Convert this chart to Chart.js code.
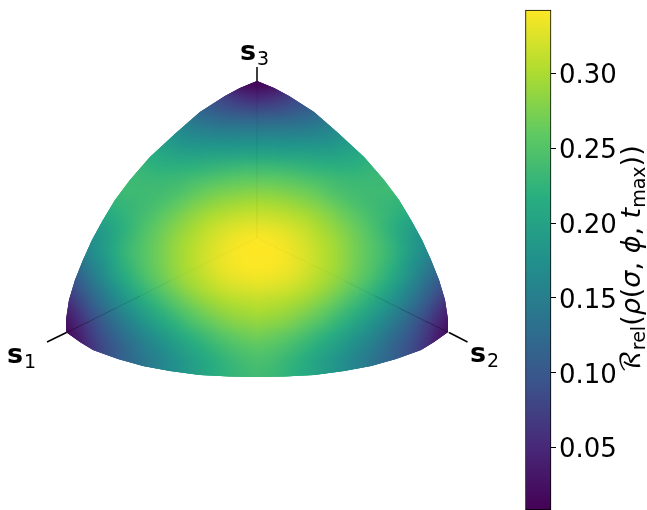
<!DOCTYPE html>
<html><head><meta charset="utf-8">
<style>html,body{margin:0;padding:0;background:#fff;width:647px;height:510px;overflow:hidden}
canvas{position:absolute;top:0}#main{left:0}#bar{left:520px}</style>
<script src="https://cdn.jsdelivr.net/npm/chart.js@4"></script></head><body>
<canvas id="main" width="647" height="510"></canvas><canvas id="bar" width="127" height="510"></canvas>
<script>
const colPositions=[54,66,78,90,102,114,126,138,150,162,174,186,198,210,222,234,246,258,270,282,294,306,318,330,342,354,366,378,390,402,414,426,438,450,462];
const rowPositions=[72,84,96,108,120,132,144,156,168,180,192,204,216,228,240,252,264,276,288,300,312,324,336,348,360,372,384];
// values, in thousandths; 0 = no sample
const r072=[0,0,0,0,0,0,0,0,0,0,0,0,0,0,0,8,8,8,8,8,0,0,0,0,0,0,0,0,0,0,0,0,0,0,0];
const r084=[0,0,0,0,0,0,0,0,0,0,0,0,0,0,35,22,14,10,14,22,35,0,0,0,0,0,0,0,0,0,0,0,0,0,0];
const r096=[0,0,0,0,0,0,0,0,0,0,0,0,0,90,75,62,50,45,50,62,75,90,0,0,0,0,0,0,0,0,0,0,0,0,0];
const r108=[0,0,0,0,0,0,0,0,0,0,0,130,115,103,93,86,82,80,82,86,93,103,115,130,0,0,0,0,0,0,0,0,0,0,0];
const r120=[0,0,0,0,0,0,0,0,0,0,165,146,134,127,123,120,118,117,118,120,123,127,134,146,165,0,0,0,0,0,0,0,0,0,0];
const r132=[0,0,0,0,0,0,0,0,0,190,174,162,156,153,151,150,150,150,150,150,151,153,156,162,174,190,0,0,0,0,0,0,0,0,0];
const r144=[0,0,0,0,0,0,0,0,208,196,186,180,178,177,177,177,178,178,178,177,177,177,178,180,186,196,208,0,0,0,0,0,0,0,0];
const r156=[0,0,0,0,0,0,0,225,216,208,203,201,201,202,203,204,205,205,205,204,203,202,201,201,203,208,216,225,0,0,0,0,0,0,0];
const r168=[0,0,0,0,0,0,235,230,224,220,220,221,223,226,230,233,235,235,235,233,230,226,223,221,220,220,224,230,235,0,0,0,0,0,0];
const r180=[0,0,0,0,0,235,234,233,232,232,234,238,243,248,253,257,259,260,259,257,253,248,243,238,234,232,232,233,234,235,0,0,0,0,0];
const r192=[0,0,0,0,226,232,235,235,236,238,242,250,260,267,272,276,279,280,279,276,272,267,260,250,242,238,236,235,235,232,226,0,0,0,0];
const r204=[0,0,0,203,215,225,228,233,238,245,256,266,276,283,290,295,298,300,298,295,290,283,276,266,256,245,238,233,228,225,215,203,0,0,0];
const r216=[0,0,178,192,205,216,226,235,245,258,268,280,290,300,306,312,315,317,315,312,306,300,290,280,268,258,245,235,226,216,205,192,178,0,0];
const r228=[0,0,165,178,190,205,222,238,252,266,278,290,301,312,320,326,331,332,331,326,320,312,301,290,278,266,252,238,222,205,190,178,165,0,0];
const r240=[0,130,150,170,187,205,227,243,258,271,285,298,308,320,329,336,341,343,341,336,329,320,308,298,285,271,258,243,227,205,187,170,150,130,0];
const r252=[0,125,145,165,185,208,230,245,260,273,287,300,312,323,332,340,343,343,343,340,332,323,312,300,287,273,260,245,230,208,185,165,145,125,0];
const r264=[0,105,128,153,175,200,225,242,258,272,287,300,312,323,333,339,342,343,342,339,333,323,312,300,287,272,258,242,225,200,175,153,128,105,0];
const r276=[0,88,112,140,165,192,216,236,253,268,283,296,306,318,327,333,337,338,337,333,327,318,306,296,283,268,253,236,216,192,165,140,112,88,0];
const r288=[42,70,96,124,150,176,200,222,240,256,272,286,298,308,316,322,325,327,325,322,316,308,298,286,272,256,240,222,200,176,150,124,96,70,42];
const r300=[28,53,80,108,135,160,183,204,223,240,256,270,283,293,301,307,310,312,310,307,301,293,283,270,256,240,223,204,183,160,135,108,80,53,28];
const r312=[16,36,62,90,117,142,165,186,205,222,238,253,266,277,286,293,297,300,297,293,286,277,266,253,238,222,205,186,165,142,117,90,62,36,16];
const r324=[10,22,48,75,100,125,147,168,187,204,220,235,248,260,270,278,282,285,282,278,270,260,248,235,220,204,187,168,147,125,100,75,48,22,10];
const r336=[10,12,36,66,90,112,132,151,168,184,200,215,228,240,251,260,266,270,266,260,251,240,228,215,200,184,168,151,132,112,90,66,36,12,10];
const r348=[0,15,30,58,80,100,120,138,155,170,185,200,213,225,236,245,251,255,251,245,236,225,213,200,185,170,155,138,120,100,80,58,30,15,0];
const r360=[0,0,0,0,85,100,115,130,145,159,173,188,201,213,224,233,240,245,240,233,224,213,201,188,173,159,145,130,115,100,85,0,0,0,0];
const r372=[0,0,0,0,0,0,0,132,146,159,172,185,198,210,220,228,234,238,234,228,220,210,198,185,172,159,146,132,0,0,0,0,0,0,0];
const r384=[0,0,0,0,0,0,0,0,0,0,0,190,200,212,222,229,235,238,235,229,222,212,200,190,0,0,0,0,0,0,0];
const fieldRows=[r072,r084,r096,r108,r120,r132,r144,r156,r168,r180,r192,r204,r216,r228,r240,r252,r264,r276,r288,r300,r312,r324,r336,r348,r360,r372,r384];
const outlineX=[257,240,225,200,176,150,130,115,103,92,83,75,69,66,66,80,93,118,143,170,200,230,257,284,314,344,371,396,421,434,448,448,445,439,431,422,411,399,384,364,338,314,289,274];
const outlineY=[81,88,96,112,133,157,180,200,220,240,260,280,300,320,332,342,350,359,366,371,375,376.5,377,376.5,375,371,366,359,350,342,332,320,300,280,260,240,220,200,180,157,133,112,96,88];
const axisTipsX=[[47,66.5],[467.5,449],[257,257]];
const axisTipsY=[[342,332.5],[342,332.5],[67,81]];
const axisFadeLeftX=[66.5,90,115,140,170,257];
const axisFadeLeftY=[332.5,321,308.5,296,281,238];
const axisFadeRightX=[449,425,400,375,345,257];
const axisFadeRightY=[332.5,321,308.5,296,281,238];
const axisFadeAlpha=[.35,.24,.14,.07,.03];
const axisTopX=[257,257];
const axisTopY=[81,238];
const vertexNames=["s","s","s"];
const vertexSubs=["1","2","3"];
const vertexX=[7,470,240];
const vertexY=[363,362,60];
const colorbarTicks=[0.05,0.10,0.15,0.20,0.25,0.30];
const colorbarMin=0.0084, colorbarTop=0.3423, axisMin=0.0084, axisMax=0.349;
const viridis=['#440154','#482878','#3b528b','#2c728e','#21918c','#28ae80','#5ec962','#addc30','#fde725'];
const rgb=viridis.map(h=>[1,3,5].map(i=>parseInt(h.substr(i,2),16)));
function cmap(v){const t=Math.max(0,Math.min(1,(v-0.007)/(0.343-0.007)))*(rgb.length-1);const i=Math.min(rgb.length-2,Math.floor(t)),f=t-i;
 return 'rgb('+rgb[i].map((c,k)=>Math.round(c+(rgb[i+1][k]-c)*f)).join(',')+')';}
const pts=[];
fieldRows.forEach((row,j)=>row.forEach((v,i)=>{if(v)pts.push({x:colPositions[i],y:rowPositions[j],v:v/1000});}));
const FONT='"DejaVu Sans"';
const lineDs=(xs,ys,color,w,order)=>({type:'scatter',showLine:true,pointRadius:0,borderColor:color,borderWidth:w,order,clip:false,
  data:xs.map((x,i)=>({x,y:ys[i]}))});
const fadeSegments=[];
axisFadeAlpha.forEach((al,i)=>{
  fadeSegments.push(lineDs(axisFadeLeftX.slice(i,i+2),axisFadeLeftY.slice(i,i+2),'rgba(0,0,0,'+al+')',1,2));
  fadeSegments.push(lineDs(axisFadeRightX.slice(i,i+2),axisFadeRightY.slice(i,i+2),'rgba(0,0,0,'+al+')',1,2));});
const fieldClip={id:'fieldClip',
 afterDatasetDraw(c,a){if(a.index!==0)return;const g=c.ctx,X=c.scales.x,Y=c.scales.y,cv=c.canvas;
  const copy=document.createElement('canvas');copy.width=cv.width;copy.height=cv.height;copy.getContext('2d').drawImage(cv,0,0);
  g.save();g.clearRect(0,0,cv.width,cv.height);g.beginPath();
  outlineX.forEach((x,i)=>{const px=X.getPixelForValue(x),py=Y.getPixelForValue(outlineY[i]);i?g.lineTo(px,py):g.moveTo(px,py);});
  g.closePath();g.clip();g.filter='blur(5px)';g.drawImage(copy,0,0);g.drawImage(copy,0,0);g.drawImage(copy,0,0);g.filter='none';g.restore();},
 afterDraw(c){const g=c.ctx,X=c.scales.x,Y=c.scales.y;g.save();g.fillStyle='#000';g.textBaseline='alphabetic';
  vertexNames.forEach((n,i)=>{const px=X.getPixelForValue(vertexX[i]),py=Y.getPixelForValue(vertexY[i]);
   g.font='bold 27px '+FONT;g.fillText(n,px,py);const w=g.measureText(n).width;
   g.font='19px '+FONT;g.fillText(vertexSubs[i],px+w+1,py+5);});
  g.restore();}};
new Chart(document.getElementById('main'),{type:'scatter',plugins:[fieldClip],
 data:{datasets:[
  {data:pts,pointStyle:'rect',pointRadius:8.7,pointHoverRadius:8.7,pointBorderWidth:0,clip:false,order:5,
   pointBackgroundColor:c=>c.raw?cmap(c.raw.v):'#000'},
  ...axisTipsX.map((xs,i)=>lineDs(xs,axisTipsY[i],'#000',1.5,1)),
  ...fadeSegments,
  lineDs(axisTopX,axisTopY,'rgba(0,0,0,.02)',1,2)
 ]},
 options:{responsive:false,animation:false,layout:{padding:0,autoPadding:false},events:[],
  plugins:{legend:{display:false},tooltip:{enabled:false}},
  scales:{x:{type:'linear',min:0,max:647,display:false},y:{type:'linear',min:0,max:510,reverse:true,display:false}}}});

const titlePieces=[["ℛ",27,0,"",'"DejaVu Math TeX Gyre","DejaVu Sans"'],["rel",19,5,""],["(",27,0,""],["ρ",27,0,"italic "],["(",27,0,""],["σ",27,0,"italic "],[", ",27,0,""],["ϕ",27,0,"italic "],[", ",27,0,""],["t",27,0,"italic "],["max",19,5,""],["))",27,0,""]];
const barTitle={id:'barTitle',afterDraw(c){const g=c.ctx;g.save();g.translate(120,373);g.rotate(-Math.PI/2);g.fillStyle='#000';g.textBaseline='alphabetic';
  let x=0;titlePieces.forEach(([t,s,d,st,f])=>{g.font=st+s+'px '+(f||FONT);g.fillText(t,x,d);x+=g.measureText(t).width;});g.restore();}};
new Chart(document.getElementById('bar'),{type:'bar',plugins:[barTitle],
 data:{labels:['colorbar'],datasets:[{data:[[colorbarMin,colorbarTop]],borderColor:'#000',borderWidth:1,borderSkipped:false,clip:false,
  barPercentage:1,categoryPercentage:1,
  backgroundColor(c){const a=c.chart.chartArea;if(!a)return '#000';const Y=c.chart.scales.y;
   const g=c.chart.ctx.createLinearGradient(0,Y.getPixelForValue(colorbarMin),0,Y.getPixelForValue(colorbarTop));
   viridis.forEach((h,i)=>g.addColorStop(i/(viridis.length-1),h));return g;}}]},
 options:{responsive:false,animation:false,events:[],layout:{padding:{left:5.5,right:0,top:0,bottom:0},autoPadding:false},
  plugins:{legend:{display:false},tooltip:{enabled:false}},
  scales:{x:{display:false},
   y:{position:'right',min:axisMin,max:axisMax,
    afterBuildTicks(s){s.ticks=colorbarTicks.map(v=>({value:v}));},
    afterFit(s){s.width=96;s.paddingTop=0;s.paddingBottom=0;},
    border:{display:false},
    grid:{drawOnChartArea:false,drawTicks:true,tickLength:5,color:'#000',lineWidth:1},
    ticks:{autoSkip:false,padding:3,labelOffset:3,color:'#000',font:{family:'DejaVu Sans',size:26},callback:v=>v.toFixed(2)}}}}});
</script></body></html>
